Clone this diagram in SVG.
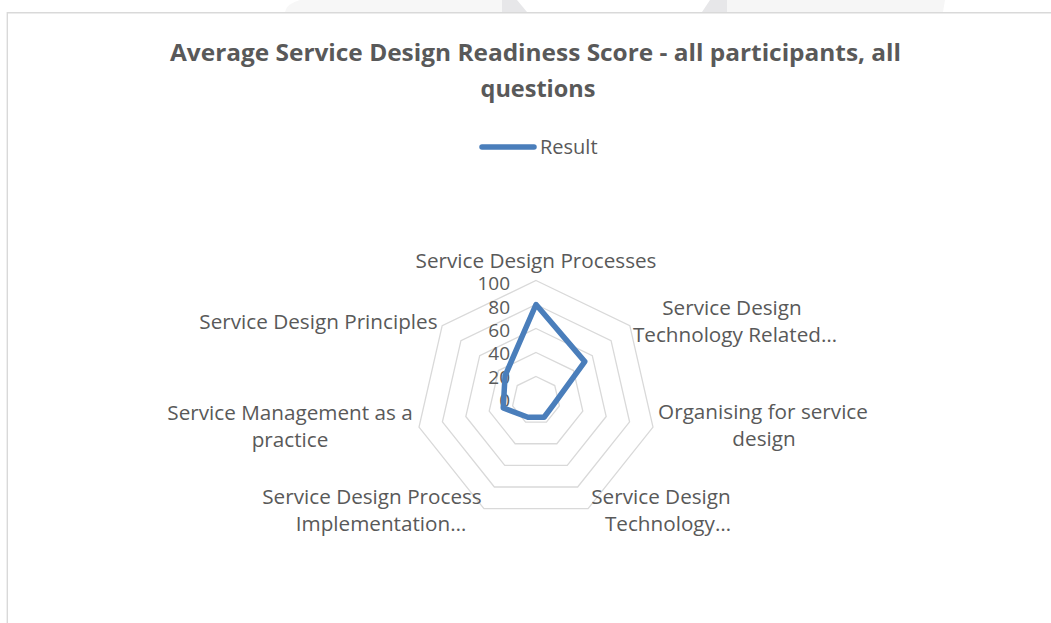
<svg xmlns="http://www.w3.org/2000/svg" width="1051" height="623" viewBox="0 0 1051 623">
  <style>
    .lbl { font-family: "Open Sans", "Liberation Sans", sans-serif; font-size: 20.7px; fill: #595959; }
    .num { font-family: "Open Sans", "Liberation Sans", sans-serif; font-size: 19px; fill: #595959; text-anchor: end; }
    .mid { text-anchor: middle; }
    .end { text-anchor: end; }
    .title { font-family: "Open Sans", "Liberation Sans", sans-serif; font-size: 23.4px; font-weight: bold; fill: #595959; text-anchor: middle; }
    .ring { fill: none; stroke: #d9d9d9; stroke-width: 1.3; }
    .series { fill: none; stroke: #4a7ebb; stroke-width: 5.5; stroke-linejoin: round; stroke-linecap: round; }
  </style>
  <rect x="0" y="0" width="1051" height="623" fill="#ffffff"/>
  <g id="watermark">
    <path d="M300,0 H502 V12 H285 Q286,4 300,0 Z" fill="#f7f7f7"/>
    <path d="M502,0 H517 L527,12 H502 Z" fill="#e7e7e9"/>
    <path d="M710,0 H727 V12 H702 Z" fill="#e7e7e9"/>
    <path d="M727,0 H945 L943,12 H727 Z" fill="#f6f6f6"/>
  </g>
  <g id="chart-frame">
    <path d="M1052,12.7 H7.3 V624" fill="none" stroke="#d9d9d9" stroke-width="1.4"/>
  </g>
  <g id="title">
    <text class="title" x="535.5" y="61" textLength="731" lengthAdjust="spacingAndGlyphs">Average Service Design Readiness Score - all participants, all</text>
    <text class="title" x="538" y="97" textLength="115" lengthAdjust="spacingAndGlyphs">questions</text>
  </g>
  <g id="legend">
    <line x1="482" y1="147" x2="534" y2="147" stroke="#4a7ebb" stroke-width="5.5" stroke-linecap="round"/>
    <text class="lbl" x="540" y="154.3" style="font-size:20px">Result</text>
  </g>
  <g id="grid">
    <polygon class="ring" points="536,280.5 629.82,325.68 652.99,427.2 588.07,508.62 483.93,508.62 419.01,427.2 442.18,325.68"/>
    <polygon class="ring" points="536,304.5 611.06,340.65 629.59,421.86 577.65,486.99 494.35,486.99 442.41,421.86 460.94,340.65"/>
    <polygon class="ring" points="536,328.5 592.29,355.61 606.19,416.52 567.24,465.37 504.76,465.37 465.81,416.52 479.71,355.61"/>
    <polygon class="ring" points="536,352.5 573.53,370.57 582.8,411.18 556.83,443.75 515.17,443.75 489.2,411.18 498.47,370.57"/>
    <polygon class="ring" points="536,376.5 554.76,385.54 559.4,405.84 546.41,422.12 525.59,422.12 512.6,405.84 517.24,385.54"/>
  </g>
  <g id="axis-values">
    <text class="num" x="510" y="290">100</text>
    <text class="num" x="510" y="313.5">80</text>
    <text class="num" x="510" y="337">60</text>
    <text class="num" x="510" y="360">40</text>
    <text class="num" x="510" y="383.5">20</text>
    <text class="num" x="510" y="407">0</text>
  </g>
  <g id="cat-processes">
    <text class="lbl mid" x="536" y="268">Service Design Processes</text>
  </g>
  <g id="cat-technology-related">
    <text class="lbl mid" x="732" y="315">Service Design</text>
    <text class="lbl mid" x="735" y="342">Technology Related…</text>
  </g>
  <g id="cat-organising">
    <text class="lbl mid" x="763" y="419">Organising for service</text>
    <text class="lbl mid" x="764" y="446">design</text>
  </g>
  <g id="cat-technology">
    <text class="lbl mid" x="661" y="504">Service Design</text>
    <text class="lbl mid" x="668" y="531">Technology…</text>
  </g>
  <g id="cat-process-implementation">
    <text class="lbl mid" x="372" y="504">Service Design Process</text>
    <text class="lbl mid" x="381" y="531">Implementation…</text>
  </g>
  <g id="cat-management">
    <text class="lbl mid" x="290" y="420">Service Management as a</text>
    <text class="lbl mid" x="290" y="447">practice</text>
  </g>
  <g id="cat-principles">
    <text class="lbl end" x="437.5" y="329">Service Design Principles</text>
  </g>
  <g id="series-result">
    <polygon class="series" points="536,304.5 584.79,361.59 553.55,404.51 544.07,417.26 527.93,417.26 503.24,407.98 505.04,375.81"/>
  </g>
</svg>
